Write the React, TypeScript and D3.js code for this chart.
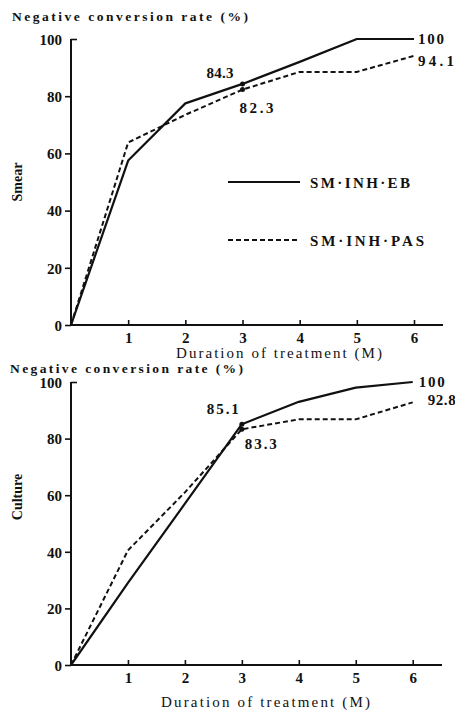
import React, { useEffect, useRef } from 'react';
import * as d3 from 'd3';

// months 0..6
const months = [0, 1, 2, 3, 4, 5, 6];
const smearEB = [0, 57.5, 77.5, 84.3, 92, 100, 100];
const smearPAS = [0, 63.8, 73.5, 82.3, 88.5, 88.5, 94.1];
const cultureEB = [0, 29, 57, 85.1, 93, 98, 100];
const culturePAS = [0, 40.5, 61, 83.3, 86.8, 86.8, 92.8];
const yTicks = [0, 20, 40, 60, 80, 100];
const xTicks = [1, 2, 3, 4, 5, 6];
const seriesNames = ['SM·INH·EB', 'SM·INH·PAS'];

const serif = '"Liberation Serif", "DejaVu Serif", serif';
const ink = '#111';

const App = () => {
  const svgRef = useRef(null);

  useEffect(() => {
    const svg = d3.select(svgRef.current);
    svg.selectAll('*').remove();

    const panels = [
      {
        eb: smearEB, pas: smearPAS, ylabel: 'Smear', ylabelY: 182,
        x0: 71, x6: 414, axisEnd: 443, yTop: 39, yBottom: 325,
        title: { x: 12, y: 21, w: 236 },
        xtitle: { x: 176, y: 358, w: 206 },
        tickY: 343,
        notes: [
          { text: '100', i: 6, s: 'eb', dx: 4, dy: 5, w: 26 },
          { text: '94.1', i: 6, s: 'pas', dx: 4, dy: 10, w: 36 },
          { text: '84.3', i: 3, s: 'eb', dx: -36, dy: -6, w: 27, dot: true },
          { text: '82.3', i: 3, s: 'pas', dx: -3, dy: 23, w: 34, dot: true },
        ],
        legend: true,
      },
      {
        eb: cultureEB, pas: culturePAS, ylabel: 'Culture', ylabelY: 497,
        x0: 71, x6: 412.7, axisEnd: 442, yTop: 382, yBottom: 665,
        title: { x: 10, y: 373, w: 233 },
        xtitle: { x: 161, y: 707, w: 209 },
        tickY: 683,
        notes: [
          { text: '100', i: 6, s: 'eb', dx: 6, dy: 5, w: 26 },
          { text: '92.8', i: 6, s: 'pas', dx: 15, dy: 3, w: 28 },
          { text: '85.1', i: 3, s: 'eb', dx: -35, dy: -10, w: 32, dot: true },
          { text: '83.3', i: 3, s: 'pas', dx: 3, dy: 20, w: 32, dot: true },
        ],
        legend: false,
      },
    ];

    panels.forEach(p => {
      const x = d3.scaleLinear().domain([0, 6]).range([p.x0, p.x6]);
      const y = d3.scaleLinear().domain([0, 100]).range([p.yBottom, p.yTop]);
      const g = svg.append('g');

      // y axis
      const ya = g.append('g')
        .attr('transform', `translate(${p.x0},0)`)
        .call(d3.axisLeft(y).tickValues(yTicks).tickSize(6).tickPadding(3));
      ya.select('.domain').attr('stroke', ink).attr('stroke-width', 2).attr('d', `M0,${p.yBottom}V${p.yTop}`);
      ya.selectAll('.tick line').attr('stroke', ink).attr('stroke-width', 1.6)
        .attr('x2', d => (d === 100 ? 6 : -6));
      ya.selectAll('.tick text')
        .attr('fill', ink).attr('font-family', serif).attr('font-size', 15).attr('font-weight', 'bold')
        .attr('dy', '0.35em');

      // x axis
      const xa = g.append('g')
        .attr('transform', `translate(0,${p.yBottom})`)
        .call(d3.axisBottom(x).tickValues(xTicks).tickSize(-5).tickFormat(d3.format('d')));
      xa.select('.domain').attr('stroke', ink).attr('stroke-width', 2).attr('d', `M${p.x0},0H${p.axisEnd}`);
      xa.selectAll('.tick line').attr('stroke', ink).attr('stroke-width', 1.6);
      xa.selectAll('.tick text')
        .attr('fill', ink).attr('font-family', serif).attr('font-size', 15).attr('font-weight', 'bold')
        .attr('y', null).attr('dy', null)
        .attr('transform', `translate(0,${p.tickY - p.yBottom})`);

      // titles
      g.append('text').attr('x', p.title.x).attr('y', p.title.y)
        .attr('font-family', serif).attr('font-size', 13.5).attr('font-weight', 'bold').attr('fill', ink)
        .attr('textLength', p.title.w).attr('lengthAdjust', 'spacing')
        .text('Negative conversion rate (%)');
      g.append('text').attr('x', p.xtitle.x).attr('y', p.xtitle.y)
        .attr('font-family', serif).attr('font-size', 15).attr('fill', ink)
        .attr('textLength', p.xtitle.w).attr('lengthAdjust', 'spacing')
        .text('Duration of treatment (M)');
      g.append('text')
        .attr('transform', `translate(22,${p.ylabelY}) rotate(-90)`)
        .attr('text-anchor', 'middle')
        .attr('font-family', serif).attr('font-size', 14).attr('font-weight', 'bold').attr('fill', ink)
        .text(p.ylabel);

      // lines
      const line = d3.line().x((d, i) => x(months[i])).y(d => y(d));
      g.append('path').datum(p.eb).attr('d', line)
        .attr('fill', 'none').attr('stroke', ink).attr('stroke-width', 2.2).attr('stroke-linejoin', 'round');
      g.append('path').datum(p.pas).attr('d', line)
        .attr('fill', 'none').attr('stroke', ink).attr('stroke-width', 2).attr('stroke-dasharray', '5,3');

      // annotations
      p.notes.forEach(n => {
        const v = n.s === 'eb' ? p.eb[n.i] : p.pas[n.i];
        if (n.dot) {
          g.append('circle').attr('cx', x(months[n.i])).attr('cy', y(v)).attr('r', 2.5).attr('fill', ink);
        }
        g.append('text').attr('x', x(months[n.i]) + n.dx).attr('y', y(v) + n.dy)
          .attr('font-family', serif).attr('font-size', 15).attr('font-weight', 'bold').attr('fill', ink)
          .attr('textLength', n.w).attr('lengthAdjust', 'spacing')
          .text(n.text);
      });

      if (p.legend) {
        const lg = g.append('g');
        [0, 1].forEach(k => {
          const ly = k === 0 ? 182 : 240;
          lg.append('line').attr('x1', 228).attr('x2', 300).attr('y1', ly).attr('y2', ly)
            .attr('stroke', ink).attr('stroke-width', k === 0 ? 2.2 : 2)
            .attr('stroke-dasharray', k === 0 ? null : '5,3');
          lg.append('text').attr('x', 310).attr('y', ly + 6)
            .attr('font-family', serif).attr('font-size', 15).attr('font-weight', 'bold').attr('fill', ink)
            .attr('textLength', k === 0 ? 100 : 114).attr('lengthAdjust', 'spacing')
            .text(seriesNames[k]);
        });
      }
    });
  }, []);

  return (
    <svg ref={svgRef} width={455} height={713}
      style={{ position: 'absolute', left: 0, top: 0, background: '#fff' }} />
  );
};

export default App;
